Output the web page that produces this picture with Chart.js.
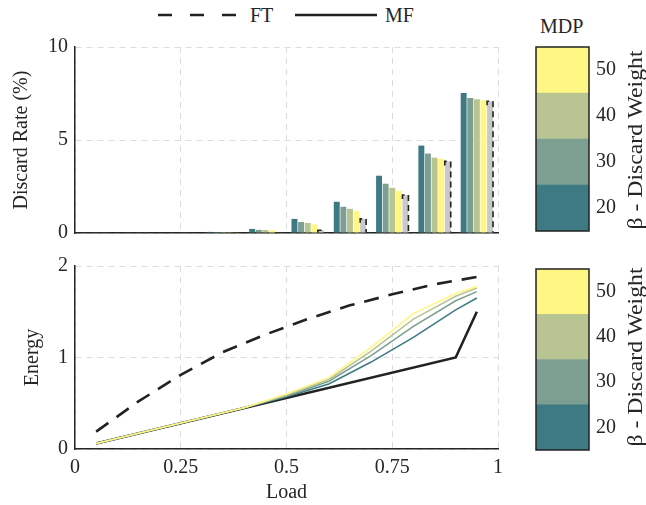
<!DOCTYPE html>
<html>
<head>
<meta charset="utf-8">
<script src="https://cdn.jsdelivr.net/npm/chart.js@4.4.1/dist/chart.umd.min.js"></script>
<style>
  body { margin: 0; background: #fff; }
  #wrap { position: relative; width: 646px; height: 505px; font-family: "Liberation Serif", serif; color: #262626; }
  canvas { position: absolute; }
  .txt { position: absolute; font-size: 20px; line-height: 24px; white-space: nowrap; }
  .rot { position: absolute; width: 220px; height: 24px; text-align: center; font-size: 21px; line-height: 24px; transform: rotate(-90deg) scaleX(1.13); white-space: nowrap; }
</style>
</head>
<body>
<div id="wrap">
  <svg style="position:absolute;left:0;top:0" width="646" height="30">
    <line x1="158" y1="15" x2="238" y2="15" stroke="#222" stroke-width="2.5" stroke-dasharray="14 18" />
    <line x1="295" y1="15" x2="377" y2="15" stroke="#222" stroke-width="2.5" />
  </svg>
  <div class="txt" style="left:250px;top:3px">FT</div>
  <div class="txt" style="left:385px;top:3px">MF</div>
  <div class="txt" style="left:540px;top:14px">MDP</div>
  <canvas id="rate" width="510" height="252" style="left:0;top:0"></canvas>
  <canvas id="energy" width="510" height="258" style="left:0;top:247px"></canvas>
  <canvas id="cbTop" width="136" height="250" style="left:510px;top:0"></canvas>
  <canvas id="cbBottom" width="136" height="255" style="left:510px;top:250px"></canvas>
  <div class="rot" style="left:525px;top:128px">β - Discard Weight</div>
  <div class="rot" style="left:525px;top:345px">β - Discard Weight</div>
</div>
<script>
// loads for the bar groups
const loads = [0.05, 0.15, 0.25, 0.35, 0.45, 0.55, 0.65, 0.75, 0.85, 0.95];
const loadTicks = [0, 0.25, 0.5, 0.75, 1];

// discard rate (%) per beta, and FT
const rate20 = [0.03, 0.03, 0.03, 0.06, 0.22, 0.76, 1.68, 3.08, 4.70, 7.53];
const rate30 = [0.03, 0.03, 0.03, 0.05, 0.17, 0.59, 1.41, 2.65, 4.27, 7.26];
const rate40 = [0.03, 0.03, 0.03, 0.05, 0.16, 0.54, 1.30, 2.43, 4.05, 7.19];
const rate50 = [0.03, 0.03, 0.03, 0.04, 0.15, 0.45, 1.19, 2.27, 4.00, 7.14];
const rateFT = [0.00, 0.00, 0.00, 0.02, 0.03, 0.15, 0.76, 2.04, 3.85, 7.08];

// energy curves
const ftLoads = [0.05, 0.15, 0.25, 0.35, 0.45, 0.55, 0.65, 0.75, 0.85, 0.95];
const energyFT = [0.19, 0.52, 0.81, 1.06, 1.25, 1.42, 1.57, 1.69, 1.80, 1.88];
const mfLoads = [0.05, 0.9, 0.95];
const energyMF = [0.06, 1.0, 1.5];
const mdpLoads = [0.05, 0.4, 0.5, 0.6, 0.7, 0.8, 0.9, 0.95];
const energy20 = [0.06, 0.45, 0.57, 0.71, 0.95, 1.22, 1.52, 1.65];
const energy30 = [0.06, 0.45, 0.58, 0.74, 1.02, 1.34, 1.62, 1.72];
const energy40 = [0.06, 0.45, 0.59, 0.76, 1.07, 1.42, 1.67, 1.76];
const energy50 = [0.06, 0.45, 0.60, 0.78, 1.11, 1.48, 1.70, 1.775];

// colorbar
const betaTicks = [20, 30, 40, 50];
const betaBands = [[15, 25], [25, 35], [35, 45], [45, 55]];

const colors = ["#3e7a84", "#7d9f92", "#b8c593", "#fff683"];
const ftGray = "#c9c9c9";
const ink = "#262626";
const gridCol = "#dcdcdc";
const font = { family: "Liberation Serif", size: 20 };

Chart.defaults.font.family = "Liberation Serif";
Chart.defaults.color = ink;
Chart.defaults.animation = false;

const pts = (xs, ys) => xs.map((x, i) => ({ x: x, y: ys[i] }));
const setTicks = list => s => { s.ticks = list.map(v => ({ value: v })); };

// dashed outline over the FT bars (top + right side)
const ftOutline = {
  id: "ftOutline",
  afterDatasetsDraw(chart) {
    const meta = chart.getDatasetMeta(4);
    const ctx = chart.ctx;
    ctx.save();
    ctx.strokeStyle = "#222";
    ctx.lineWidth = 1.6;
    ctx.setLineDash([6, 4]);
    meta.data.forEach(bar => {
      const p = bar.getProps(["x", "y", "base", "width"], true);
      const l = p.x - p.width / 2, r = p.x + p.width / 2;
      if (p.base - p.y < 0.5) return;
      ctx.beginPath();
      ctx.moveTo(l, Math.min(p.y + 4, p.base));
      ctx.lineTo(l, p.y);
      ctx.lineTo(r, p.y);
      ctx.lineTo(r, p.base);
      ctx.stroke();
    });
    ctx.restore();
  }
};

const frame = {
  id: "frame",
  afterDraw(chart) {
    const a = chart.chartArea, ctx = chart.ctx;
    ctx.save();
    ctx.strokeStyle = "#222";
    ctx.lineWidth = 1.5;
    ctx.strokeRect(a.left, a.top, a.right - a.left, a.bottom - a.top);
    ctx.restore();
  }
};

const grid = { color: gridCol, lineWidth: 1, offset: false, drawTicks: false };
const border = { color: ink, width: 1.5, dash: [6, 5] };

const bar = (data, color) => ({
  data: pts(loads, data), backgroundColor: color, borderWidth: 0,
  categoryPercentage: 0.78, barPercentage: 0.9
});

new Chart(document.getElementById("rate"), {
  type: "bar",
  data: {
    datasets: [
      bar(rate20, colors[0]),
      bar(rate30, colors[1]),
      bar(rate40, colors[2]),
      bar(rate50, colors[3]),
      bar(rateFT, ftGray)
    ]
  },
  options: {
    responsive: false,
    layout: { padding: { top: 47, right: 12, bottom: 0, left: 0 } },
    plugins: { legend: { display: false }, tooltip: { enabled: false } },
    scales: {
      x: {
        type: "linear", min: 0, max: 1, offset: false,
        afterBuildTicks: setTicks(loadTicks),
        ticks: { display: false },
        grid: grid, border: border,
        afterFit: s => { s.height = 0; }
      },
      y: {
        min: 0, max: 10,
        ticks: { stepSize: 5, font: font, padding: 7 },
        grid: grid, border: border,
        title: { display: true, text: "Discard Rate (%)", font: font, padding: { top: 10, bottom: 0 } },
        afterFit: s => { s.width = 75; }
      }
    }
  },
  plugins: [ftOutline]
});

const line = (xs, ys, color, width, dash) => ({
  data: pts(xs, ys), borderColor: color, borderWidth: width,
  borderDash: dash || [], pointRadius: 0, fill: false, tension: 0
});

new Chart(document.getElementById("energy"), {
  type: "line",
  data: {
    datasets: [
      line(mdpLoads, energy50, colors[3], 1.6),
      line(mdpLoads, energy40, colors[2], 1.6),
      line(mdpLoads, energy30, colors[1], 1.6),
      line(mdpLoads, energy20, colors[0], 1.6),
      line(ftLoads, energyFT, "#222", 2.6, [15, 10]),
      line(mfLoads, energyMF, "#222", 2.6)
    ]
  },
  options: {
    responsive: false,
    layout: { padding: { top: 12, right: 12, bottom: 0, left: 0 } },
    plugins: { legend: { display: false }, tooltip: { enabled: false } },
    scales: {
      x: {
        type: "linear", min: 0, max: 1,
        afterBuildTicks: setTicks(loadTicks),
        ticks: { font: font, padding: 7, maxRotation: 0, callback: v => String(v) },
        grid: grid, border: border,
        title: { display: true, text: "Load", font: font, padding: { top: 0, bottom: 0 } },
        afterFit: s => { s.height = 56; }
      },
      y: {
        min: 0, max: 2,
        ticks: { stepSize: 1, font: font, padding: 7 },
        grid: grid, border: border,
        title: { display: true, text: "Energy", font: font, padding: { top: 21, bottom: 0 } },
        afterFit: s => { s.width = 75; }
      }
    }
  }
});

function colorbar(id, pad) {
  new Chart(document.getElementById(id), {
    type: "bar",
    data: {
      labels: ["beta"],
      datasets: betaBands.map((b, i) => ({
        data: [b], backgroundColor: colors[i], borderWidth: 0,
        grouped: false, categoryPercentage: 1, barPercentage: 1
      }))
    },
    options: {
      responsive: false,
      layout: { padding: pad },
      plugins: { legend: { display: false }, tooltip: { enabled: false } },
      scales: {
        x: { display: false },
        y: {
          position: "right", min: 15, max: 55,
          afterBuildTicks: setTicks(betaTicks),
          ticks: { font: font, padding: 7 },
          grid: { display: false, drawTicks: false },
          border: { display: false },
          afterFit: s => { s.width = 57; }
        }
      }
    },
    plugins: [frame]
  });
}

colorbar("cbTop", { top: 47, bottom: 17, left: 26, right: 0 });
colorbar("cbBottom", { top: 14, bottom: 55, left: 26, right: 0 });
</script>
</body>
</html>
